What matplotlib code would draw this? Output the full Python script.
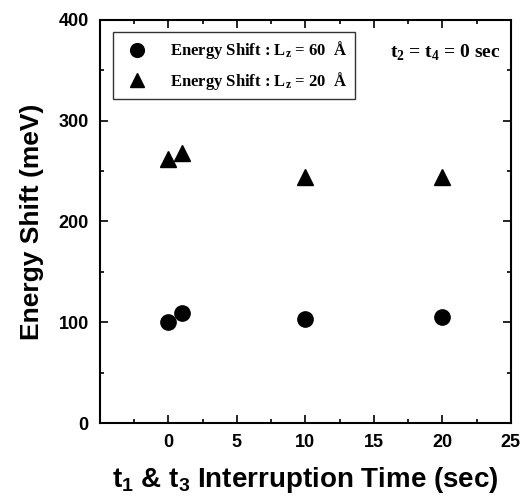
import matplotlib
matplotlib.use("Agg")
import matplotlib.pyplot as plt
from matplotlib.ticker import MultipleLocator

# interruption time (sec)
t_60 = [0, 1, 10, 20]
shift_60 = [100, 109, 103, 105]
t_20 = [0, 1, 10, 20]
shift_20 = [262, 268, 244, 244]

plt.rcParams["font.family"] = "Liberation Sans"
plt.rcParams["font.weight"] = "bold"
plt.rcParams["mathtext.fontset"] = "custom"
plt.rcParams["mathtext.rm"] = "Liberation Sans:bold"
plt.rcParams["mathtext.it"] = "Liberation Sans:bold"
plt.rcParams["mathtext.bf"] = "Liberation Sans:bold"
plt.rcParams["mathtext.sf"] = "Liberation Serif:bold"

fig = plt.figure(figsize=(5.25, 4.96), dpi=100)
ax = fig.add_axes([0.19, 0.147, 0.783, 0.813])

ax.plot(t_60, shift_60, "o", color="black", markersize=11,
        label=r"Energy Shift : L$_\mathsf{z}$ = 60  Å")
ax.plot(t_20, shift_20, "^", color="black", markersize=11,
        label=r"Energy Shift : L$_\mathsf{z}$ = 20  Å")

ax.set_xlim(-5, 25)
ax.set_ylim(0, 400)
ax.xaxis.set_major_locator(MultipleLocator(5))
ax.xaxis.set_minor_locator(MultipleLocator(2.5))
ax.yaxis.set_major_locator(MultipleLocator(100))
ax.yaxis.set_minor_locator(MultipleLocator(50))
ax.set_xticks([0, 5, 10, 15, 20, 25])
ax.tick_params(which="both", direction="in", top=True, right=True, width=1.2)
ax.tick_params(which="major", length=6, labelsize=13, pad=8)
ax.tick_params(which="minor", length=3)
for s in ax.spines.values():
    s.set_linewidth(1.5)

ax.set_xlabel(r"t$_1$ & t$_3$ Interruption Time (sec)", fontsize=20, fontweight="bold", labelpad=10)
ax.set_ylabel("Energy Shift (meV)", fontsize=19, fontweight="bold", labelpad=10)

leg = ax.legend(loc="upper left", bbox_to_anchor=(0.032, 0.97), frameon=True, fancybox=False,
                edgecolor="black", handletextpad=1.0, borderpad=0.45, labelspacing=0.5,
                markerscale=0.9, borderaxespad=0,
                prop={"family": "Liberation Serif", "weight": "bold", "size": 12})
leg.get_frame().set_linewidth(1.0)

ax.text(0.975, 0.92, r"t$_\mathsf{2}$ = t$_\mathsf{4}$ = 0 sec", transform=ax.transAxes,
        ha="right", va="center", family="Liberation Serif", fontweight="bold", fontsize=14)

fig.savefig("out.png", dpi=100)
